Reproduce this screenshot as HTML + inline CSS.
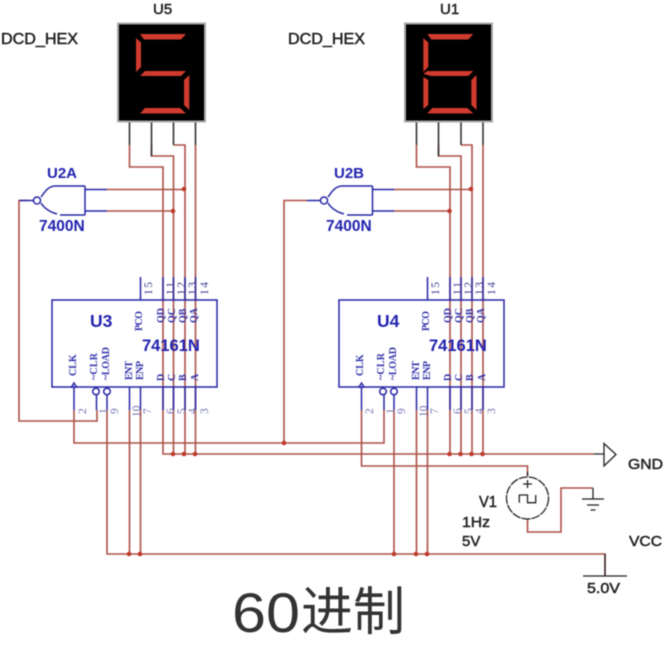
<!DOCTYPE html>
<html><head><meta charset="utf-8"><style>
html,body{margin:0;padding:0;background:#fff;width:668px;height:653px;overflow:hidden}
svg{display:block;filter:blur(.4px)}
text{font-family:"Liberation Sans","Noto Sans CJK SC",sans-serif}
.b text{fill:#2222b0;font-weight:bold}
.k text{fill:#222;stroke:#222;stroke-width:.5}
.s text{font-family:"Liberation Serif",serif;fill:#3030aa;font-size:10px;font-weight:bold}
.n text{font-family:"Liberation Serif",serif;fill:#3a3a90;font-size:11.5px}
.m text{font-family:"Liberation Serif",serif;fill:#7070b4;font-size:11.5px}
</style></head><body>
<svg width="668" height="653" viewBox="0 0 668 653" xmlns="http://www.w3.org/2000/svg">
<rect width="668" height="653" fill="#fff"/>

<!-- red wires -->
<g fill="none" stroke="#ac5048" stroke-width="1.6">
<path d="M129.5 145V167H163V410M151.5 145V156H173.5V410M173.5 145H185V410M195.5 145V410"/>
<path d="M107 189.5H184M107 211H173"/>
<path d="M28 200.5H19V421H97V410"/>
<path d="M74 410V443H384V410"/>
<path d="M107 410V554H605V576"/>
<path d="M129.5 410V554M140.5 410V554"/>
<path d="M163 410V454H594M173.5 410V454M185 410V454M195.5 410V454"/>
<path d="M416.5 145V167H450V410M438.5 145V156H461V410M461 145H472V410M483 145V410"/>
<path d="M394 189.5H471M394 211H449.5"/>
<path d="M307 200.5H284V443"/>
<path d="M361.5 410V466H527.5V476"/>
<path d="M394 410V554M416.5 410V554M427.5 410V554"/>
<path d="M450 410V454M461 410V454M472 410V454M483 410V454"/>
<path d="M527.5 519V532H561V488H593"/>
</g>
<!-- dots -->
<g fill="#c0392b">
<circle cx="184" cy="189" r="2.3"/><circle cx="173" cy="211" r="2.3"/>
<circle cx="471" cy="189" r="2.3"/><circle cx="449.5" cy="211" r="2.3"/>
<circle cx="284" cy="443" r="2.3"/>
<circle cx="173" cy="454" r="2.3"/><circle cx="184" cy="454" r="2.3"/><circle cx="195" cy="454" r="2.3"/>
<circle cx="449.5" cy="454" r="2.3"/><circle cx="460.5" cy="454" r="2.3"/><circle cx="471.5" cy="454" r="2.3"/><circle cx="482.5" cy="454" r="2.3"/>
<circle cx="129" cy="554" r="2.3"/><circle cx="140" cy="554" r="2.3"/>
<circle cx="394" cy="554" r="2.3"/><circle cx="416" cy="554" r="2.3"/><circle cx="427" cy="554" r="2.3"/>
</g>

<!-- displays -->
<g stroke="#333" stroke-width="1.6"><path d="M129.5 122V145M151.5 122V156M173.5 122V145M195.5 122V145M416.5 122V145M438.5 122V156M461 122V145M483 122V145" fill="none"/></g>
<rect x="118" y="23.5" width="87" height="98" fill="#000" stroke="#a8a8a8" stroke-width="2"/>
<rect x="405" y="23.5" width="87" height="98" fill="#000" stroke="#a8a8a8" stroke-width="2"/>
<g fill="#cf3b2e">
<polygon points="140,34 186,34 181,39.500 144,39.500"/>
<polygon points="136,38 141,42.500 141,67 136,72"/>
<polygon points="140,76 145,71 186,71 181,76"/>
<polygon points="189.300,75 189.300,110 184,105 184,80"/>
<polygon points="140,113.500 145,108 180,108 186,113.500"/>
<g transform="translate(287.3 0)">
<polygon points="140,34 186,34 181,39.500 144,39.500"/>
<polygon points="136,38 141,42.500 141,67 136,72"/>
<polygon points="136,74 140,71 186,71 181,76 144,76"/>
<polygon points="189.300,75 189.300,110 184,105 184,80"/>
<polygon points="140,113.500 145,108 180,108 186,113.500"/>
<polygon points="136,77 141,80 141,105 136,109"/>
</g>
</g>

<!-- blue parts -->
<g fill="none" stroke="#2626a6" stroke-width="1.5">
<path d="M85 189.500H107M85 211H107M85 186V215M85 186H55C48 186 44 193 41 197M85 215H60M57 214C50 212 44 208 41 203M33 200.500H19.500"/>
<circle cx="37" cy="200.500" r="3.500" fill="#fff"/>
<path d="M372.500 189.500H394M372.500 211H394M372.500 186V215M372.500 186H342C335 186 331 193 328 197M372.500 215H347M344 214C337 212 331 208 328 203M320 200.500H307"/>
<circle cx="324" cy="200.500" r="3.500" fill="#fff"/>

<rect x="52" y="300" width="165" height="87"/>
<path d="M140.500 277V300M163 277V300M173.500 277V300M185 277V300M195.500 277V300"/>
<path d="M74 387V410M96.500 394V410M107 394V410M129.500 387V410M140.500 387V410M163 387V410M173.500 387V410M185 387V410M195.500 387V410"/>
<polygon points="74,383 71.500,387 76.500,387" fill="#fff"/>
<circle cx="96" cy="391.500" r="3.300" fill="#fff"/>
<circle cx="107" cy="391.500" r="3.300" fill="#fff"/>

<rect x="339" y="300" width="165" height="87"/>
<path d="M427.500 277V300M450 277V300M461 277V300M472 277V300M483 277V300"/>
<path d="M361.500 387V410M384 394V410M394 394V410M416.500 387V410M427.500 387V410M450 387V410M461 387V410M472 387V410M483 387V410"/>
<polygon points="361.500,383 359,387 364,387" fill="#fff"/>
<circle cx="383" cy="391.500" r="3.300" fill="#fff"/>
<circle cx="394" cy="391.500" r="3.300" fill="#fff"/>
</g>

<!-- black parts -->
<g fill="none" stroke="#222" stroke-width="1.300">
<path d="M594 454H604M604 443.500L616 454.500L604 466Z"/>
<circle cx="527.500" cy="498" r="21" stroke-dasharray="9 1"/>
<path d="M527.500 476V472M523 484H532M527.500 480V488M519.300 502.700V495H527.500V502.700H535.700V495"/>
<path d="M593 488V499M582 499H604M587 505H599M590.500 510H595.500"/>
<path d="M605 554V576M583 576H627"/>
</g>

<!-- black labels -->
<g class="k">
<text x="153" y="14" font-size="15">U5</text>
<text x="440" y="14" font-size="15">U1</text>
<text x="1" y="44" font-size="15.500" textLength="77" lengthAdjust="spacingAndGlyphs">DCD_HEX</text>
<text x="288" y="44" font-size="15.500" textLength="77" lengthAdjust="spacingAndGlyphs">DCD_HEX</text>
<text x="628" y="469" font-size="15" textLength="35" lengthAdjust="spacingAndGlyphs">GND</text>
<text x="629" y="546" font-size="15" textLength="33" lengthAdjust="spacingAndGlyphs">VCC</text>
<text x="587" y="593" font-size="15" textLength="33" lengthAdjust="spacingAndGlyphs">5.0V</text>
<text x="479" y="507" font-size="16" textLength="18" lengthAdjust="spacingAndGlyphs">V1</text>
<text x="462" y="527" font-size="15" textLength="28" lengthAdjust="spacingAndGlyphs">1Hz</text>
<text x="462" y="546" font-size="15">5V</text>
</g>

<!-- blue labels -->
<g class="b">
<text x="47" y="178" font-size="15">U2A</text>
<text x="39" y="231" font-size="15.500">7400N</text>
<text x="334" y="178" font-size="15">U2B</text>
<text x="326" y="231" font-size="15.500">7400N</text>
<text x="90" y="327" font-size="17.500">U3</text>
<text x="142" y="351" font-size="16.500">74161N</text>
<text x="377" y="327" font-size="17.500">U4</text>
<text x="429" y="351" font-size="16.500">74161N</text>
</g>

<!-- U3 pin names -->
<g class="s">
<text transform="translate(142 331) rotate(-90)" textLength="20">PCO</text>
<text transform="translate(164 323) rotate(-90)">QD</text>
<text transform="translate(175 323) rotate(-90)">QC</text>
<text transform="translate(186 323) rotate(-90)">QB</text>
<text transform="translate(197 323) rotate(-90)">QA</text>
<text transform="translate(76 376) rotate(-90)">CLK</text>
<text transform="translate(97 380) rotate(-90)" textLength="27">~CLR</text>
<text transform="translate(109 380) rotate(-90)" textLength="33">~LOAD</text>
<text transform="translate(132 380) rotate(-90)" textLength="19">ENT</text>
<text transform="translate(143 380) rotate(-90)" textLength="19">ENP</text>
<text transform="translate(164 381) rotate(-90)">D</text>
<text transform="translate(175 381) rotate(-90)">C</text>
<text transform="translate(186 381) rotate(-90)">B</text>
<text transform="translate(198 381) rotate(-90)">A</text>
</g>
<!-- U4 pin names -->
<g class="s">
<text transform="translate(429 331) rotate(-90)" textLength="20">PCO</text>
<text transform="translate(451 323) rotate(-90)">QD</text>
<text transform="translate(462 323) rotate(-90)">QC</text>
<text transform="translate(473 323) rotate(-90)">QB</text>
<text transform="translate(484 323) rotate(-90)">QA</text>
<text transform="translate(363 376) rotate(-90)">CLK</text>
<text transform="translate(384 380) rotate(-90)" textLength="27">~CLR</text>
<text transform="translate(396 380) rotate(-90)" textLength="33">~LOAD</text>
<text transform="translate(419 380) rotate(-90)" textLength="19">ENT</text>
<text transform="translate(430 380) rotate(-90)" textLength="19">ENP</text>
<text transform="translate(451 381) rotate(-90)">D</text>
<text transform="translate(462 381) rotate(-90)">C</text>
<text transform="translate(473 381) rotate(-90)">B</text>
<text transform="translate(485 381) rotate(-90)">A</text>
</g>
<!-- top pin numbers -->
<g class="n">
<text transform="translate(152 295) rotate(-90)" textLength="13">15</text>
<text transform="translate(174 295) rotate(-90)" textLength="13">11</text>
<text transform="translate(185 295) rotate(-90)" textLength="13">12</text>
<text transform="translate(196 295) rotate(-90)" textLength="13">13</text>
<text transform="translate(208 295) rotate(-90)" textLength="13">14</text>
<text transform="translate(439 295) rotate(-90)" textLength="13">15</text>
<text transform="translate(461 295) rotate(-90)" textLength="13">11</text>
<text transform="translate(472 295) rotate(-90)" textLength="13">12</text>
<text transform="translate(483 295) rotate(-90)" textLength="13">13</text>
<text transform="translate(495 295) rotate(-90)" textLength="13">14</text>
</g>
<!-- bottom pin numbers -->
<g class="m">
<text transform="translate(86 414) rotate(-90)">2</text>
<text transform="translate(107 414) rotate(-90)">1</text>
<text transform="translate(118 414) rotate(-90)">9</text>
<text transform="translate(140 417) rotate(-90)">10</text>
<text transform="translate(151 414) rotate(-90)">7</text>
<text transform="translate(174 414) rotate(-90)">6</text>
<text transform="translate(185 414) rotate(-90)">5</text>
<text transform="translate(196 414) rotate(-90)">4</text>
<text transform="translate(208 414) rotate(-90)">3</text>
<text transform="translate(373 414) rotate(-90)">2</text>
<text transform="translate(394 414) rotate(-90)">1</text>
<text transform="translate(405 414) rotate(-90)">9</text>
<text transform="translate(427 417) rotate(-90)">10</text>
<text transform="translate(438 414) rotate(-90)">7</text>
<text transform="translate(461 414) rotate(-90)">6</text>
<text transform="translate(472 414) rotate(-90)">5</text>
<text transform="translate(483 414) rotate(-90)">4</text>
<text transform="translate(495 414) rotate(-90)">3</text>
</g>

<!-- caption -->
<text x="232" y="632" font-size="56" fill="#333" textLength="68" lengthAdjust="spacingAndGlyphs">60</text>
<text x="301" y="630" font-size="52" fill="#333" style='font-family:"Noto Sans CJK SC","Liberation Sans",sans-serif'>进制</text>
</svg>
</body></html>
